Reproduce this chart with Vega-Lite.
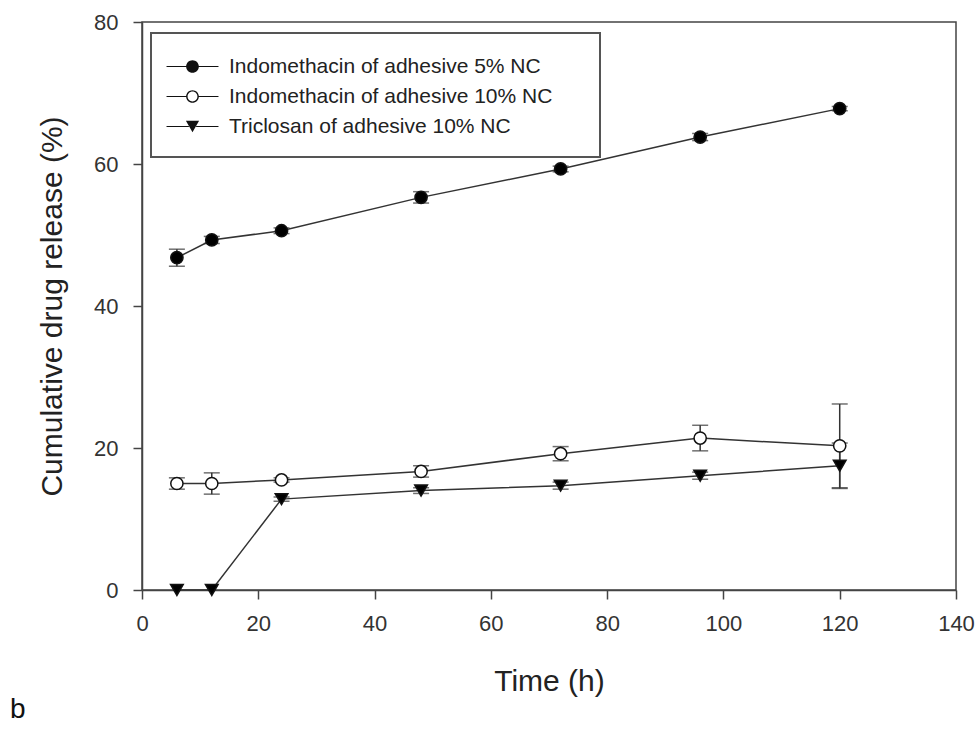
{
  "$schema": "https://vega.github.io/schema/vega-lite/v6.json",
  "width": 814,
  "height": 568,
  "autosize": {"type": "none"},
  "padding": {"left": 142, "top": 22, "right": 23, "bottom": 139},
  "background": "white",
  "title": {"text": "b", "orient": "bottom", "anchor": "start", "frame": "group", "dx": -132, "offset": 0, "fontSize": 28, "font": "Liberation Sans", "fontWeight": "normal", "color": "#111"},
  "data": {
    "values": [
      {"s": "Indomethacin of adhesive 5% NC", "t": 6, "v": 46.8, "e": 1.2},
      {"s": "Indomethacin of adhesive 5% NC", "t": 12, "v": 49.3, "e": 0.5},
      {"s": "Indomethacin of adhesive 5% NC", "t": 24, "v": 50.6, "e": 0.4},
      {"s": "Indomethacin of adhesive 5% NC", "t": 48, "v": 55.3, "e": 0.8},
      {"s": "Indomethacin of adhesive 5% NC", "t": 72, "v": 59.3, "e": 0.4},
      {"s": "Indomethacin of adhesive 5% NC", "t": 96, "v": 63.8, "e": 0.5},
      {"s": "Indomethacin of adhesive 5% NC", "t": 120, "v": 67.8, "e": 0.3},
      {"s": "Indomethacin of adhesive 10% NC", "t": 6, "v": 15.0, "e": 0.8},
      {"s": "Indomethacin of adhesive 10% NC", "t": 12, "v": 15.0, "e": 1.5},
      {"s": "Indomethacin of adhesive 10% NC", "t": 24, "v": 15.5, "e": 0.3},
      {"s": "Indomethacin of adhesive 10% NC", "t": 48, "v": 16.7, "e": 0.8},
      {"s": "Indomethacin of adhesive 10% NC", "t": 72, "v": 19.2, "e": 1.0},
      {"s": "Indomethacin of adhesive 10% NC", "t": 96, "v": 21.4, "e": 1.8},
      {"s": "Indomethacin of adhesive 10% NC", "t": 120, "v": 20.3, "e": 5.9},
      {"s": "Triclosan of adhesive 10% NC", "t": 6, "v": 0, "e": 0},
      {"s": "Triclosan of adhesive 10% NC", "t": 12, "v": 0, "e": 0},
      {"s": "Triclosan of adhesive 10% NC", "t": 24, "v": 12.8, "e": 0.3},
      {"s": "Triclosan of adhesive 10% NC", "t": 48, "v": 14.0, "e": 0.4},
      {"s": "Triclosan of adhesive 10% NC", "t": 72, "v": 14.7, "e": 0.5},
      {"s": "Triclosan of adhesive 10% NC", "t": 96, "v": 16.1, "e": 0.5},
      {"s": "Triclosan of adhesive 10% NC", "t": 120, "v": 17.5, "e": 3.2}
    ]
  },
  "encoding": {
    "x": {"field": "t", "type": "quantitative", "title": "Time (h)", "scale": {"domain": [0, 140], "nice": false}, "axis": {"values": [0, 20, 40, 60, 80, 100, 120, 140]}},
    "y": {"field": "v", "type": "quantitative", "title": "Cumulative drug release (%)", "scale": {"domain": [0, 80], "nice": false}, "axis": {"values": [0, 20, 40, 60, 80]}}
  },
  "layer": [
    {
      "transform": [{"filter": "datum.e > 0"}],
      "mark": {"type": "errorbar", "ticks": {"size": 16, "thickness": 1.5, "color": "#333"}, "rule": {"strokeWidth": 1.5, "color": "#333"}},
      "encoding": {"yError": {"field": "e"}, "detail": {"field": "s"}}
    },
    {
      "mark": {"type": "line", "color": "#333", "strokeWidth": 1.5},
      "encoding": {"detail": {"field": "s"}, "order": {"field": "t"}}
    },
    {
      "transform": [{"filter": "datum.s === 'Indomethacin of adhesive 5% NC'"}],
      "mark": {"type": "point", "shape": "circle", "filled": true, "size": 150, "fill": "#000", "stroke": "#111", "strokeWidth": 1.5, "opacity": 1}
    },
    {
      "transform": [{"filter": "datum.s === 'Indomethacin of adhesive 10% NC'"}],
      "mark": {"type": "point", "shape": "circle", "filled": true, "size": 150, "fill": "#fff", "stroke": "#111", "strokeWidth": 1.5, "opacity": 1}
    },
    {
      "transform": [{"filter": "datum.s === 'Triclosan of adhesive 10% NC'"}],
      "mark": {"type": "point", "shape": "triangle-down", "filled": true, "size": 160, "fill": "#000", "stroke": "#111", "strokeWidth": 1.5, "opacity": 1}
    },
    {
      "mark": {"type": "point", "filled": true, "size": 144, "color": "#111", "opacity": 0},
      "encoding": {
        "shape": {"field": "s", "type": "nominal", "title": " ",
          "scale": {"domain": ["Indomethacin of adhesive 5% NC", "Indomethacin of adhesive 10% NC", "Triclosan of adhesive 10% NC"],
            "range": [
              "M-4.33,-0.065H-1V0.065H-4.33ZM1,-0.065H4.33V0.065H1ZM1.06,0A1.06,1.06,0,1,1,-1.06,0A1.06,1.06,0,1,1,1.06,0ZM64.5,0",
              "M-4.33,-0.065H-1V0.065H-4.33ZM1,-0.065H4.33V0.065H1ZM1.06,0A1.06,1.06,0,1,1,-1.06,0A1.06,1.06,0,1,1,1.06,0ZM0.82,0A0.82,0.82,0,1,0,-0.82,0A0.82,0.82,0,1,0,0.82,0ZM64.5,0",
              "M-4.33,-0.065H-0.6V0.065H-4.33ZM0.6,-0.065H4.33V0.065H0.6ZM0,0.95L-1.1,-0.95L1.1,-0.95ZM64.5,0"
            ]},
          "legend": {"orient": "none", "legendX": 9, "legendY": 11, "padding": 20, "symbolOffset": 11, "labelOffset": 26, "symbolSize": 144, "symbolFillColor": "#111", "symbolStrokeWidth": 0, "symbolOpacity": 1, "labelFont": "Liberation Sans", "labelFontSize": 21, "labelColor": "#222", "labelLimit": 0, "rowPadding": 8, "titleFontSize": 1, "titlePadding": 2, "strokeColor": "#555", "direction": "vertical",
            "encode": {"symbols": {"fill": {"value": "#111"}, "strokeWidth": {"value": 0}, "opacity": {"value": 1}}}}}
      }
    }
  ],
  "config": {
    "view": {"stroke": "#444", "strokeWidth": 1.5},
    "axis": {"grid": false, "domainColor": "#444", "domainWidth": 1.5, "tickColor": "#444", "tickWidth": 1.5, "tickSize": 9, "labelFont": "Liberation Sans", "labelFontSize": 22, "labelColor": "#333", "labelFlush": false, "labelOverlap": false, "titleFont": "Liberation Sans", "titleFontSize": 30, "titleFontWeight": "normal", "titleColor": "#222"},
    "axisX": {"labelPadding": 14, "titlePadding": 32},
    "axisY": {"labelPadding": 15, "titlePadding": 26},
    "legend": {"strokeWidth": 2}
  }
}
